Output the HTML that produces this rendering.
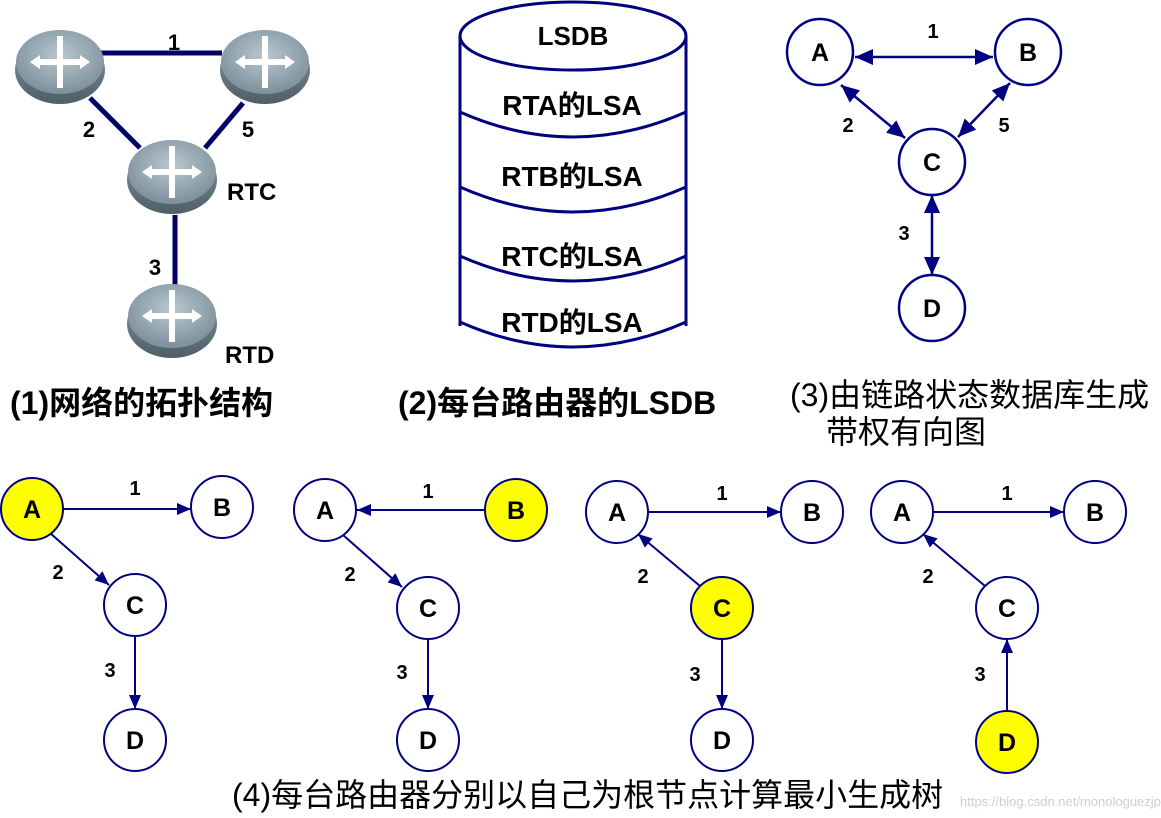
<!DOCTYPE html>
<html><head><meta charset="utf-8"><style>
body{margin:0;background:#fff;width:1161px;height:818px;overflow:hidden}
svg{display:block}
text{font-family:"Liberation Sans","Noto Sans CJK SC",sans-serif;font-weight:bold;fill:#000}
text.n{font-weight:normal}
</style></head><body>
<svg width="1161" height="818" viewBox="0 0 1161 818" xmlns="http://www.w3.org/2000/svg">
<defs>
<marker id="ar" viewBox="0 0 14 12" refX="14" refY="6" markerWidth="14" markerHeight="12" markerUnits="userSpaceOnUse" orient="auto-start-reverse"><path d="M0,0 L14,6 L0,12z" fill="#000080"/></marker>
<marker id="ar2" viewBox="0 0 18 16" refX="18" refY="8" markerWidth="18" markerHeight="16" markerUnits="userSpaceOnUse" orient="auto-start-reverse"><path d="M0,0 L18,8 L0,16z" fill="#000080"/></marker>
<radialGradient id="rg" cx="50%" cy="40%" r="60%"><stop offset="0" stop-color="#b8c8d0"/><stop offset="1" stop-color="#7d909a"/></radialGradient>
<linearGradient id="rs" x1="0" y1="0" x2="0" y2="1"><stop offset="0" stop-color="#8a9aa3"/><stop offset="1" stop-color="#4e5e67"/></linearGradient>
<g id="router">
<ellipse cx="0" cy="8" rx="45" ry="34" fill="url(#rs)"/>
<ellipse cx="0" cy="0" rx="44" ry="32" fill="url(#rg)"/>
<path d="M-30,0 L-20,-7 L-20,-3 L20,-3 L20,-7 L30,0 L20,7 L20,3 L-20,3 L-20,7Z" fill="#fff"/>
<path d="M-3,-26 L3,-26 L3,26 L-3,26Z" fill="#fff"/>
</g>
</defs>
<g stroke="#000066" stroke-width="5">
<line x1="100" y1="53" x2="222" y2="53"/>
<line x1="90" y1="98" x2="140" y2="148"/>
<line x1="243" y1="103" x2="205" y2="148"/>
<line x1="175" y1="215" x2="175" y2="290"/>
</g>
<use href="#router" x="60" y="62"/>
<use href="#router" x="265" y="62"/>
<use href="#router" x="172" y="172"/>
<use href="#router" x="172" y="316"/>
<text x="174" y="50" font-size="22" text-anchor="middle">1</text>
<text x="89" y="137" font-size="22" text-anchor="middle">2</text>
<text x="248" y="137" font-size="22" text-anchor="middle">5</text>
<text x="155" y="275" font-size="22" text-anchor="middle">3</text>
<text x="227" y="200" font-size="24">RTC</text>
<text x="225" y="363" font-size="24">RTD</text>
<text x="10" y="414" font-size="32">(1)网络的拓扑结构</text>
<g stroke="#000080" stroke-width="3" fill="none">
<ellipse cx="573" cy="36" rx="113" ry="34"/>
<line x1="460" y1="36" x2="460" y2="326"/>
<line x1="686" y1="36" x2="686" y2="326"/>
<path d="M460,112 Q573,162 686,112"/>
<path d="M460,187 Q573,237 686,187"/>
<path d="M460,256 Q573,306 686,256"/>
<path d="M460,322 Q573,372 686,322"/>
</g>
<text x="573" y="45" font-size="26" text-anchor="middle">LSDB</text>
<text x="572" y="115" font-size="28" text-anchor="middle">RTA的LSA</text>
<text x="572" y="186" font-size="28" text-anchor="middle">RTB的LSA</text>
<text x="572" y="266" font-size="28" text-anchor="middle">RTC的LSA</text>
<text x="572" y="332" font-size="28" text-anchor="middle">RTD的LSA</text>
<text x="398" y="414" font-size="32">(2)每台路由器的LSDB</text>
<g stroke="#000080" stroke-width="2.5" fill="#fff">
<line x1="855" y1="57" x2="993" y2="57" marker-start="url(#ar2)" marker-end="url(#ar2)"/>
<line x1="841" y1="85" x2="905" y2="138" marker-start="url(#ar2)" marker-end="url(#ar2)"/>
<line x1="1010" y1="83" x2="958" y2="137" marker-start="url(#ar2)" marker-end="url(#ar2)"/>
<line x1="932" y1="195" x2="932" y2="275" marker-start="url(#ar2)" marker-end="url(#ar2)"/>
<circle cx="820" cy="52" r="33"/><circle cx="1028" cy="52" r="33"/>
<circle cx="932" cy="162" r="33"/><circle cx="932" cy="308" r="33"/>
</g>
<g font-size="25" text-anchor="middle">
<text x="820" y="61">A</text><text x="1028" y="61">B</text><text x="932" y="171">C</text><text x="932" y="317">D</text>
</g>
<g font-size="20" text-anchor="middle">
<text x="933" y="38">1</text><text x="848" y="132">2</text><text x="1004" y="132">5</text><text x="904" y="240">3</text>
</g>
<text class="n" x="790" y="406" font-size="32">(3)由链路状态数据库生成</text>
<text class="n" x="826" y="443" font-size="32">带权有向图</text>
<g stroke="#000080" stroke-width="2" fill="#fff">
<line x1="63" y1="509" x2="191" y2="509" marker-end="url(#ar)"/>
<line x1="50" y1="533" x2="109" y2="585" marker-end="url(#ar)"/>
<line x1="135" y1="636" x2="135" y2="709" marker-end="url(#ar)"/>
<circle cx="32" cy="509" r="31" fill="#ffff00"/><circle cx="222" cy="507" r="31"/>
<circle cx="135" cy="605" r="31"/><circle cx="135" cy="740" r="31"/>
<line x1="485" y1="510" x2="357" y2="510" marker-end="url(#ar)"/>
<line x1="343" y1="535" x2="402" y2="587" marker-end="url(#ar)"/>
<line x1="428" y1="639" x2="428" y2="709" marker-end="url(#ar)"/>
<circle cx="325" cy="510" r="31"/><circle cx="516" cy="510" r="31" fill="#ffff00"/>
<circle cx="428" cy="608" r="31"/><circle cx="428" cy="740" r="31"/>
<line x1="648" y1="512" x2="781" y2="512" marker-end="url(#ar)"/>
<line x1="700" y1="586" x2="638" y2="534" marker-end="url(#ar)"/>
<line x1="722" y1="639" x2="722" y2="709" marker-end="url(#ar)"/>
<circle cx="617" cy="512" r="31"/><circle cx="812" cy="512" r="31"/>
<circle cx="722" cy="608" r="31" fill="#ffff00"/><circle cx="722" cy="740" r="31"/>
<line x1="933" y1="512" x2="1064" y2="512" marker-end="url(#ar)"/>
<line x1="985" y1="586" x2="923" y2="534" marker-end="url(#ar)"/>
<line x1="1007" y1="711" x2="1007" y2="639" marker-end="url(#ar)"/>
<circle cx="902" cy="512" r="31"/><circle cx="1095" cy="512" r="31"/>
<circle cx="1007" cy="608" r="31"/><circle cx="1007" cy="742" r="31" fill="#ffff00"/>
</g>
<g font-size="25" text-anchor="middle">
<text x="32" y="518">A</text><text x="222" y="516">B</text><text x="135" y="614">C</text><text x="135" y="749">D</text>
<text x="325" y="519">A</text><text x="516" y="519">B</text><text x="428" y="617">C</text><text x="428" y="749">D</text>
<text x="617" y="521">A</text><text x="812" y="521">B</text><text x="722" y="617">C</text><text x="722" y="749">D</text>
<text x="902" y="521">A</text><text x="1095" y="521">B</text><text x="1007" y="617">C</text><text x="1007" y="751">D</text>
</g>
<g font-size="20" text-anchor="middle">
<text x="135" y="495">1</text><text x="58" y="579">2</text><text x="110" y="677">3</text>
<text x="428" y="498">1</text><text x="350" y="581">2</text><text x="402" y="679">3</text>
<text x="722" y="500">1</text><text x="643" y="583">2</text><text x="695" y="681">3</text>
<text x="1007" y="500">1</text><text x="928" y="583">2</text><text x="980" y="681">3</text>
</g>
<text class="n" x="232" y="806" font-size="32">(4)每台路由器分别以自己为根节点计算最小生成树</text>
<text class="n" x="960" y="806" font-size="13" style="fill:#cfcfcf">https://blog.csdn.net/monologuezjp</text>
</svg>
</body></html>
